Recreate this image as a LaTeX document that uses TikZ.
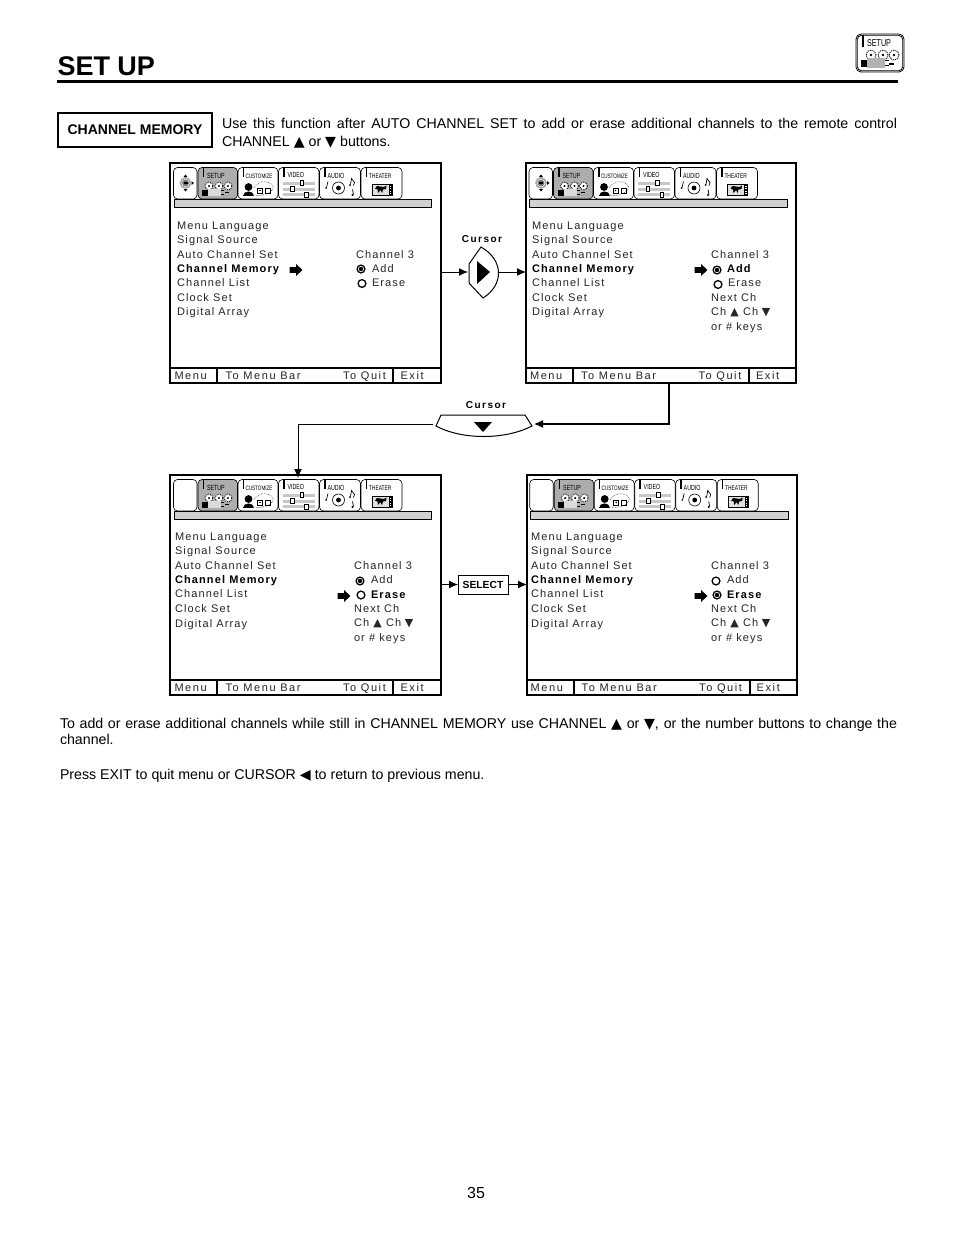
\documentclass[tikz,border=0pt]{standalone}
\usepackage{fontspec}
\setmainfont{Liberation Sans}
\newfontfamily\sym{DejaVu Sans}
\newfontfamily\spc[LetterSpace=14.5]{Liberation Sans}
\newfontfamily\spm[LetterSpace=10.2]{Liberation Sans}
\newfontfamily\nar[FakeStretch=0.72]{Liberation Sans}
\newcommand{\up}{{\sym\char"25B2}}
\newcommand{\dn}{{\sym\char"25BC}}
\newcommand{\lf}{{\sym\char"25C0}}
\tikzset{
  every node/.style={inner sep=0pt,outer sep=0pt},
  panelbox/.style={draw=black,line width=1.5pt,minimum width=#1,minimum height=220pt,anchor=north west,fill=white},
  tabbox/.style={draw=black,line width=.6pt,rounded corners=4pt},
  menutext/.style={anchor=base west,font=\fontsize{11}{11}\spm,text=black!85},
  menubold/.style={anchor=base west,font=\fontsize{11}{11}\bfseries\spm},
  bartext/.style={anchor=base west,font=\fontsize{11}{11}\spc,text=black!85},
  tabtext/.style={anchor=base west,font=\fontsize{7.4}{7.4}\nar},
  conn/.style={draw=black,line width=1pt},
  tipd/.style={-{Latex[length=9pt,width=8pt]}},
  body/.style={anchor=north west,align=justify,font=\fontsize{14.2}{18}\selectfont},
}
\usetikzlibrary{arrows.meta}
\newcommand{\camera}{%
  \foreach \cx in {11,21,30}{\draw[line width=.9pt,fill=white,densely dotted] (\cx,18.5) circle (3.9pt);\fill (\cx,18.5) circle (1.2pt);}
  \fill (4,22) rectangle (10,28);
  \fill[black!14] (10,21) rectangle (23,28.5);
  \draw[line width=.5pt] (23,23)--(26,23) (23,27)--(26,27);
  \fill (27,24.5) rectangle (31,25.7);
}
\newcommand{\tabrow}[2]{% #1 id, #2 first-tab contents
  \draw[tabbox] (3.5,4.5) rectangle (27,36);
  #2
  \begin{scope}[shift={(28,4.5)}]
    \draw[tabbox,fill=black!32] (0,0) rectangle (39.5,31.5);
    \fill (4.5,0.5) rectangle (6,9.5);
    \node[tabtext] (#1setup) at (9,10.5) {SETUP};
    \camera
  \end{scope}
  \begin{scope}[shift={(68,4.5)}]
    \draw[tabbox] (0,0) rectangle (40,31.5);
    \fill (4.5,0.5) rectangle (6,9.5);
    \node[tabtext,font=\fontsize{6.4}{6.4}\nar] (#1cust) at (7.5,10.5) {CUSTOMIZE};
    \fill (10.5,19.5) circle (3.9pt);
    \fill (5,28.5) .. controls (5,22) and (16,22) .. (16,28.5) -- cycle;
    \draw[line width=.5pt,densely dotted] (16,20) .. controls (20,13) and (32,12) .. (35,19) .. controls (36,26) and (20,30) .. (16,27);
    \draw[line width=.9pt] (19.5,20.5) rectangle (24.5,25.5) (27.5,20.5) rectangle (32.5,25.5);
    \fill (22,23) circle (.9pt);
  \end{scope}
  \begin{scope}[shift={(108.5,4.5)}]
    \draw[tabbox] (0,0) rectangle (40.5,31.5);
    \fill (4.5,0.5) rectangle (6,9.5);
    \node[tabtext] (#1video) at (9,10) {VIDEO};
    \foreach \sy/\sx in {15.5/23.5,21.5/14,27/28}{
      \fill[black!22] (4,\sy-1.5) rectangle (36,\sy+1.5);
      \draw[line width=.9pt,fill=white] (\sx-1.8,\sy-2.5) rectangle (\sx+1.8,\sy+2.5);}
  \end{scope}
  \begin{scope}[shift={(149.5,4.5)}]
    \draw[tabbox] (0,0) rectangle (41,31.5);
    \fill (4.5,0.5) rectangle (6,9.5);
    \node[tabtext] (#1audio) at (8,10.5) {AUDIO};
    \draw[line width=.6pt] (19,20.5) circle (6pt);
    \fill (19,20.5) circle (2.4pt);
    \draw[line width=.7pt] (7,20)--(8.5,14);
    \fill (6.6,20.5) circle (.9pt);
    \draw[line width=.7pt] (31,17)--(32,11)--(35,15)--(34,18) (33,22)--(34,27);
    \fill (30.5,17.5) circle (1pt) (33,27.5) circle (1.1pt);
  \end{scope}
  \begin{scope}[shift={(191,4.5)}]
    \draw[tabbox] (0,0) rectangle (41,31.5);
    \fill (4.5,0.5) rectangle (6,9.5);
    \node[tabtext,font=\fontsize{6.8}{6.8}\nar] (#1theater) at (8,10.5) {THEATER};
    \draw[line width=.7pt,fill=black!12] (11,16.5) rectangle (31,27.5);
    \fill (27.5,16.5) rectangle (31,27.5);
    \foreach \py in {18,20.5,23,25.5}{\fill[white] (28.5,\py) rectangle (30,\py+1);}
    \fill (14,21)--(16,18.5)--(23,19.5)--(25.5,18)--(25,21.5)--(22,22)--(21,25.5)--(19.5,22.5)--(17,25.5)--(16.5,22)--cycle;
  \end{scope}
  \draw[line width=.8pt,fill=black!18] (4,36.5) rectangle (261.7,44.5);
}
\newcommand{\panel}[6]{% #1 id, #2 x, #3 y, #4 width, #5 first tab, #6 tab shift
  \node[panelbox=#4] (p#1) at (#2,#3) {};
  \begin{scope}[shift={(#2,#3)}]
    \begin{scope}[shift={(#6,0)}]\tabrow{#1}{#5}\end{scope}
    \draw[line width=1.3pt] (0,205)--(#4,205) (47,205)--(47,220) (223,205)--(223,220);
    \begin{scope}[shift={(#6,0)}]
    \node[bartext] (#1bm) at (4.5,216) {Menu};
    \node[bartext] (#1bt) at (55.5,216) {To Menu Bar};
    \node[bartext] (#1bq) at (173,216) {To Quit};
    \node[bartext] (#1be) at (230.5,216) {Exit};
    \end{scope}
  \end{scope}
}
\newcommand{\joy}{%
  \fill[black!55] (15.5,20) circle (3.4pt);
  \draw[black!35,line width=1.6pt] (15.5,20) circle (5pt);
  \fill (15.5,11.5)--(13.5,14)--(17.5,14)--cycle (15.5,28.5)--(13.5,26)--(17.5,26)--cycle (24,20)--(21.5,18)--(21.5,22)--cycle;
  \fill[black] (13.5,19) rectangle (17.5,21);
}
\newcommand{\menulist}[3]{%
  \node[menutext] (#1m1) at (#2,#3) {Menu Language};
  \node[menutext] (#1m2) at (#2,#3+14.6) {Signal Source};
  \node[menutext] (#1m3) at (#2,#3+29.2) {Auto Channel Set};
  \node[menubold] (#1m4) at (#2,#3+43.4) {Channel Memory};
  \node[menutext] (#1m5) at (#2,#3+57.6) {Channel List};
  \node[menutext] (#1m6) at (#2,#3+72.3) {Clock Set};
  \node[menutext] (#1m7) at (#2,#3+86.9) {Digital Array};
}
\newcommand{\keys}[3]{%
  \node[menutext] (#1k1) at (#2,#3) {Next Ch};
  \node[menutext] (#1k2) at (#2,#3+14.6) {Ch \up{} Ch\,\,\dn};
  \node[menutext] (#1k3) at (#2,#3+29.2) {or \# keys};
}
\newcommand{\radio}[3]{\draw[line width=1.3pt,fill=white] (#1,#2) circle (3.9pt); #3}
\newcommand{\radiodot}[2]{\radio{#1}{#2}{\fill (#1,#2) circle (2.2pt);}}
\newcommand{\blockarrow}[3]{%
  \fill (#2-6.5,#3-2.8) -- (#2,#3-2.8) -- (#2,#3-6) -- (#2+6.5,#3) -- (#2,#3+6) -- (#2,#3+2.8) -- (#2-6.5,#3+2.8) -- cycle;
}
\begin{document}
\begin{tikzpicture}[x=1pt,y=-1pt]
\useasboundingbox (0,0) rectangle (954,1235);
\fill[white] (0,0) rectangle (954,1235);
% header
\node[anchor=base west,font=\fontsize{27}{27}\bfseries\selectfont] (title) at (57.5,75) {SET UP};
\draw[line width=3.2pt] (57,81.5)--(898,81.5);
\begin{scope}[shift={(856,34)}]
  \draw[line width=.8pt,rounded corners=5pt] (0,0) rectangle (48,38);
  \draw[line width=.8pt,rounded corners=4.5pt] (1.2,1.2) rectangle (46.8,36.8);
  \fill (5.5,1) rectangle (7.5,13);
  \node[anchor=base west,font=\fontsize{10}{10}\nar] (hsetup) at (11,12.5) {SETUP};
  \foreach \cx in {15,27,38}{\draw[line width=1pt,fill=white,densely dotted] (\cx,21) circle (5pt);\fill (\cx,21) circle (1.4pt);}
  \fill (5,26) rectangle (11,33);
  \fill[black!30] (11,24) rectangle (29,34);
  \draw[line width=.6pt] (29,26)--(33,26) (29,31)--(33,31);
  \fill (33,28.5) rectangle (38,30.5);
\end{scope}
% intro
\node[draw,line width=1.6pt,minimum width=154pt,minimum height=34pt,anchor=north west,font=\fontsize{14}{14}\bfseries\selectfont] (cm) at (58,113) {CHANNEL MEMORY};
\node[body,text width=675pt] (intro) at (222,118) {\hyphenpenalty=10000 Use this function after AUTO CHANNEL SET to add or erase additional channels to the remote control\linebreak CHANNEL \up{} or \dn{} buttons.};
% panels
\panel{a}{170}{163}{271}{\joy}{0}
\panel{b}{526}{163}{270}{\joy}{-.5}
\panel{c}{170}{475}{271}{}{0}
\panel{d}{527}{475}{270}{}{-.8}
% panel a
\menulist{a}{177}{229}
\node[menutext] (ach) at (356,258) {Channel 3};
\radiodot{361}{269}
\node[menutext] (aadd) at (372,272) {Add};
\radio{362}{283.5}{}
\node[menutext] (aer) at (372,286) {Erase};
\blockarrow{aa}{296}{270}
% panel b
\menulist{b}{532}{229}
\node[menutext] (bch) at (711,258) {Channel 3};
\radiodot{717}{270}
\node[menubold] (badd) at (727,272) {Add};
\radio{718}{284.5}{}
\node[menutext] (ber) at (728,286) {Erase};
\keys{b}{711}{301}
\blockarrow{ba}{701}{270}
% panel c
\menulist{c}{175}{540.3}
\node[menutext] (cch) at (354,569) {Channel 3};
\radiodot{360}{581}
\node[menutext] (cadd) at (371,583) {Add};
\radio{361}{595}{}
\node[menubold] (cer) at (371,598) {Erase};
\keys{c}{354}{612}
\blockarrow{ca}{344}{596}
% panel d
\menulist{d}{531}{540.3}
\node[menutext] (dch) at (711,569) {Channel 3};
\radio{716}{581}{}
\node[menutext] (dadd) at (727,583) {Add};
\radiodot{717}{595}
\node[menubold] (der) at (727,598) {Erase};
\keys{d}{711}{612}
\blockarrow{da}{701}{596}
% cursors
\node[font=\fontsize{10}{10}\bfseries\spc] (cl1) at (482,239) {Cursor};
\coordinate (crw) at (468,272);
\coordinate (cre) at (498,272);
\draw[line width=1pt] (481,247) -- (469,264) -- (469,283) -- (483,298) .. controls (504,285) and (504,260) .. (481,247) -- cycle;
\fill (477,261)--(490,272)--(477,284)--cycle;
\node[font=\fontsize{10}{10}\bfseries\spc] (cl2) at (486,405) {Cursor};
\coordinate (cdw) at (433,424);
\coordinate (cde) at (534,424);
\draw[line width=1pt] (441,415) -- (525,415) -- (532,426) .. controls (505,440) and (462,440) .. (436,426) -- cycle;
\fill (474,422)--(492,422)--(483,432)--cycle;
\node[draw,line width=.8pt,minimum width=50pt,minimum height=19pt,font=\fontsize{10.3}{10.3}\bfseries\selectfont] (sel) at (483,584.5) {SELECT};
% connectors
\draw[conn,tipd] (pa.east |- crw) -- (crw);
\draw[conn,tipd] (cre) -- (pb.west |- cre);
\draw[conn,line width=1.4pt,tipd] ([xshift=8pt]pb.south) |- (cde);
\draw[conn,tipd] (cdw) -| ([xshift=-7.5pt,yshift=-3pt]pc.north);
\draw[conn,tipd] (pc.east |- sel) -- (sel.west);
\draw[conn,tipd] (sel.east) -- (pd.west |- sel);
% closing text
\node[body,text width=837pt,font=\fontsize{14.2}{16}\selectfont] (t1) at (60,718) {\hyphenpenalty=10000 To add or erase additional channels while still in CHANNEL MEMORY use CHANNEL \up{} or \dn{}, or the number buttons to change the channel.};
\node[anchor=north west,font=\fontsize{14.2}{18}\selectfont] (t2) at (60,769) {Press EXIT to quit menu or CURSOR \lf{} to return to previous menu.};
\node[anchor=base,font=\fontsize{16}{16}\selectfont] (pg) at (476,1198.5) {35};
\end{tikzpicture}
\end{document}
